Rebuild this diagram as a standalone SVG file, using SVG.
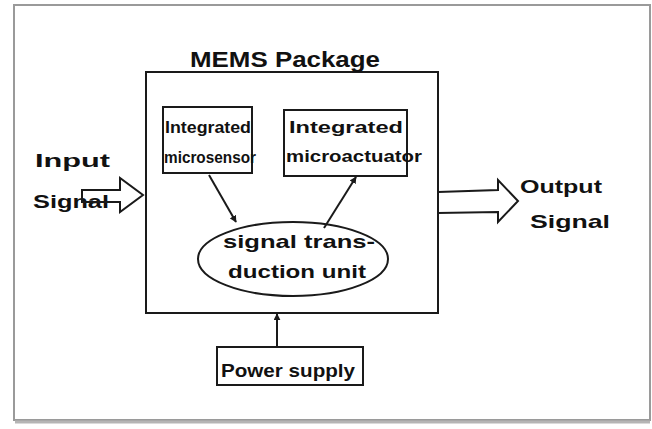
<svg xmlns="http://www.w3.org/2000/svg" width="652" height="429" viewBox="0 0 652 429">
<defs>
<marker id="ah" viewBox="0 0 10 10" refX="9" refY="5" markerWidth="7" markerHeight="7" orient="auto-start-reverse" markerUnits="userSpaceOnUse">
<path d="M0,0 L10,5 L0,10 z" fill="#1a1a1a"/>
</marker>
</defs>
<style>
.ln{fill:none;stroke:#1a1a1a;stroke-width:2}
.bx{fill:none;stroke:#1a1a1a;stroke-width:2}
.t{font-family:"Liberation Sans",Arial,sans-serif;fill:#111;font-weight:bold}
.s{font-size:17px}
.m{font-size:19px}
.b{font-size:22px}
</style>
<rect x="0" y="0" width="652" height="429" fill="#ffffff"/>
<g id="frame">
<rect x="14" y="5" width="636" height="415" fill="#ffffff" stroke="#9a9a9a" stroke-width="2"/>
<line x1="15" y1="422" x2="650" y2="422" stroke="#b5b5b5" stroke-width="3"/>
</g>
<g id="mems-package">
<rect class="bx" x="146" y="72" width="292" height="241"/>
<text class="t b" x="190" y="67" textLength="190" lengthAdjust="spacingAndGlyphs">MEMS Package</text>
</g>
<g id="microsensor">
<rect class="bx" x="163" y="107" width="89" height="66"/>
<text class="t s" x="165" y="133" textLength="86" lengthAdjust="spacingAndGlyphs">Integrated</text>
<text class="t s" x="164" y="163" textLength="92" lengthAdjust="spacingAndGlyphs">microsensor</text>
</g>
<g id="microactuator">
<rect class="bx" x="284" y="110" width="123" height="66"/>
<text class="t s" x="289" y="133" textLength="114" lengthAdjust="spacingAndGlyphs">Integrated</text>
<text class="t s" x="286" y="162" textLength="136" lengthAdjust="spacingAndGlyphs">microactuator</text>
</g>
<g id="transduction">
<ellipse class="bx" cx="293" cy="259" rx="95" ry="37"/>
<text class="t m" x="223" y="248" textLength="152" lengthAdjust="spacingAndGlyphs">signal trans-</text>
<text class="t m" x="228" y="278" textLength="138" lengthAdjust="spacingAndGlyphs">duction unit</text>
</g>
<g id="power-supply">
<rect class="bx" x="217" y="347" width="146" height="38"/>
<text class="t m" x="221" y="377" textLength="134" lengthAdjust="spacingAndGlyphs">Power supply</text>
</g>
<g id="input-signal">
<text class="t m" x="35" y="167" textLength="75" lengthAdjust="spacingAndGlyphs">Input</text>
<text class="t m" x="33" y="208" textLength="76" lengthAdjust="spacingAndGlyphs">Signal</text>
</g>
<g id="output-signal">
<text class="t m" x="520" y="193" textLength="82" lengthAdjust="spacingAndGlyphs">Output</text>
<text class="t m" x="530" y="228" textLength="80" lengthAdjust="spacingAndGlyphs">Signal</text>
</g>
<g id="connectors">
<polygon class="ln" fill="#fff" points="82,190 120,190 120,178 143,195 120,212 120,202 82,202"/>
<polygon class="ln" points="438,192 498,190 498,180 518,201 498,222 498,212 438,213"/>
<line class="ln" x1="209" y1="175" x2="236" y2="222" marker-end="url(#ah)"/>
<line class="ln" x1="324" y1="228" x2="356" y2="177" marker-end="url(#ah)"/>
<line class="ln" x1="277" y1="347" x2="277" y2="314" marker-end="url(#ah)"/>
</g>
</svg>
